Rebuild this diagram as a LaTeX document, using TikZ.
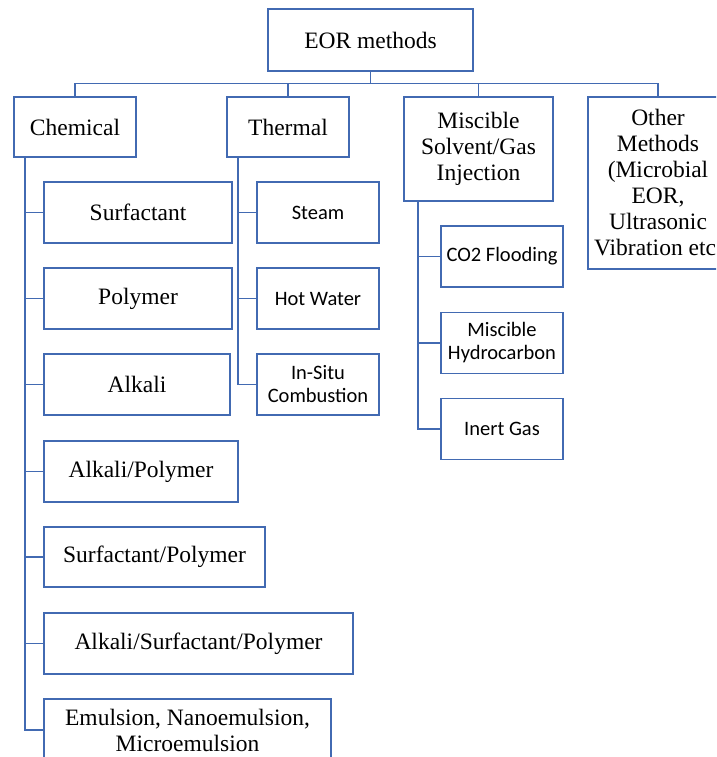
\documentclass[tikz,border=0pt]{standalone}
\usepackage{fontspec}
\setmainfont{Liberation Serif}
\newfontfamily\carlito{Carlito}
\usepackage{tikz}
\usetikzlibrary{positioning}
\definecolor{linkblue}{RGB}{66,106,178}

\begin{document}
\begin{tikzpicture}[x=1pt,y=-1pt,
    box/.style={draw=linkblue,line width=1.6pt,fill=white,align=center,inner sep=1pt,
        font=\fontsize{23.5}{26}\selectfont},
    sbox/.style={box,font=\carlito\fontsize{20.5}{23}\selectfont},
    link/.style={draw=linkblue,line width=1.6pt}]
                \useasboundingbox (0,0) rectangle (716,757);
                \clip (0,0) rectangle (716,757);

                % Root
                \node[box,minimum width=205pt,minimum height=62pt] (eor) at (370.5,40) {EOR methods};
                \coordinate (bus) at (370.5,83.5);

                % Main branches
                \node[box,minimum width=122pt,minimum height=60pt] (chem) at (75,127) {Chemical};
                \node[box,minimum width=122pt,minimum height=60pt] (therm) at (288,127) {Thermal};
                \node[box,minimum width=149pt,minimum height=104pt] (misc) at (478.5,149) {Miscible\\Solvent/Gas\\Injection};
                \node[box,minimum width=140pt,minimum height=172pt] (other) at (658,183) {Other\\Methods\\(Microbial\\EOR,\\Ultrasonic\\Vibration etc.};

                % Chemical methods
                \node[box,minimum width=188pt,minimum height=61pt] (surf) at (138,212.5) {Surfactant};
                \node[box,minimum width=188pt,minimum height=61pt] (poly) at (138,298.5) {Polymer};
                \node[box,minimum width=186pt,minimum height=61pt] (alk) at (137,384.5) {Alkali};
                \node[box,minimum width=194pt,minimum height=61pt] (alkpoly) at (141,471.5) {Alkali/Polymer};
                \node[box,minimum width=221pt,minimum height=60pt] (surfpoly) at (154.5,557) {Surfactant/Polymer};
                \node[box,minimum width=309pt,minimum height=61pt] (asp) at (198.5,643.5) {Alkali/Surfactant/Polymer};
                \node[box,minimum width=287pt,minimum height=62pt] (emul) at (187.5,730) {Emulsion, Nanoemulsion,\\Microemulsion};

                % Thermal methods
                \node[sbox,minimum width=122pt,minimum height=61pt] (steam) at (318,212.5) {Steam};
                \node[sbox,minimum width=122pt,minimum height=61pt] (hotw) at (318,298.5) {Hot Water};
                \node[sbox,minimum width=122pt,minimum height=61pt] (insitu) at (318,384.5) {In-Situ\\Combustion};

                % Miscible methods
                \node[sbox,minimum width=122pt,minimum height=61pt] (co2) at (502,256.5) {CO2 Flooding};
                \node[sbox,minimum width=122pt,minimum height=61pt] (hydro) at (502,343) {Miscible\\Hydrocarbon};
                \node[sbox,minimum width=122pt,minimum height=61pt] (inert) at (502,429) {Inert Gas};

                % Root to branches
                \draw[link] (eor.south) -- (bus);
                \foreach \b in {chem,therm,misc,other}
                    \draw[link] (\b.north) |- (bus);

                % Branches to methods
                \foreach \c in {surf,poly,alk,alkpoly,surfpoly,asp,emul}
                    \draw[link] ([xshift=12pt]chem.south west) |- (\c.west);
                \foreach \c in {steam,hotw,insitu}
                    \draw[link] ([xshift=12pt]therm.south west) |- (\c.west);
                \foreach \c in {co2,hydro,inert}
                    \draw[link] ([xshift=15pt]misc.south west) |- (\c.west);
            \end{tikzpicture}
\end{document}
